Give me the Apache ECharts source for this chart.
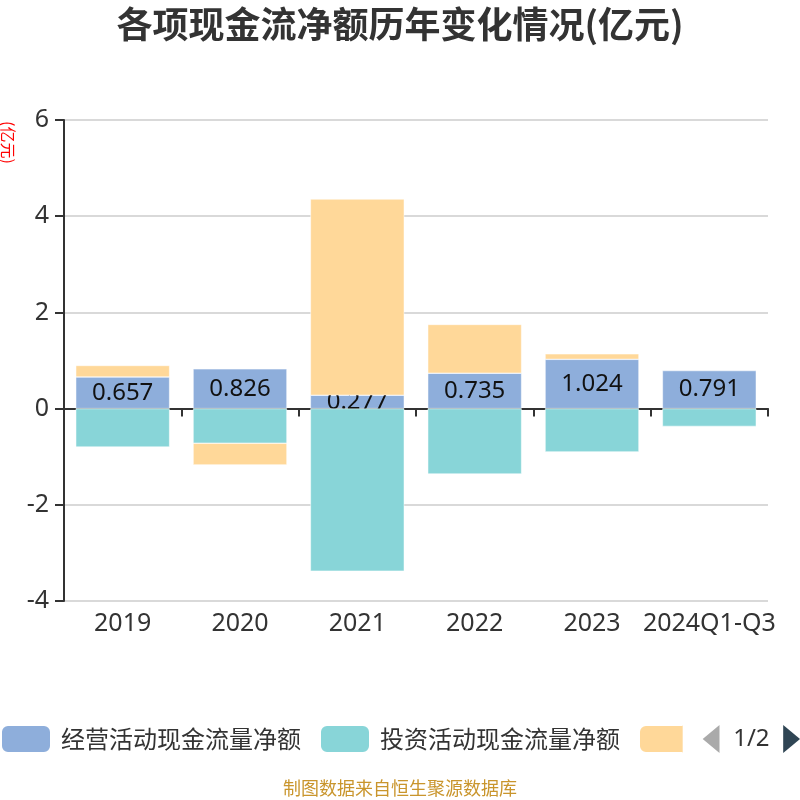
<!DOCTYPE html>
<html>
<head>
<meta charset="utf-8">
<script src="https://cdn.jsdelivr.net/npm/echarts@6/dist/echarts.min.js"></script>
<style>html,body{margin:0;padding:0;background:#fff}#c{width:800px;height:800px}</style>
</head>
<body>
<div id="c"></div>
<script>
const categories = ['2019', '2020', '2021', '2022', '2023', '2024Q1-Q3'];
const operating = [0.657, 0.826, 0.277, 0.735, 1.024, 0.791];
const investing = [-0.80, -0.72, -3.38, -1.36, -0.90, -0.37];
const financing = [0.24, -0.45, 4.08, 1.015, 0.115, null];
const seriesNames = ['经营活动现金流量净额', '投资活动现金流量净额', '筹资活动现金流量净额'];
const yTicks = { min: -4, max: 6, interval: 2 };

const chart = echarts.init(document.getElementById('c'));
const FONT = '"Noto Sans", "Noto Sans CJK SC", sans-serif';
const barCommon = { type: 'bar', stack: 'total', barWidth: '80%', xAxisIndex: 0 };
chart.setOption({
  animation: false,
  textStyle: { fontFamily: FONT },
  title: {
    text: '各项现金流净额历年变化情况(亿元)',
    left: 'center', top: 1,
    textStyle: { fontSize: 36, fontWeight: 'bold', color: '#333', fontFamily: '"Noto Sans CJK SC", sans-serif' }
  },
  grid: { left: 64, right: 32, top: 120, bottom: 199, containLabel: false },
  legend: {
    type: 'scroll', bottom: 46, left: 0, right: 0, padding: 0,
    itemWidth: 50, itemHeight: 28, itemGap: 18,
    icon: 'roundRect',
    textStyle: { fontSize: 24, color: '#333', fontFamily: '"Noto Sans CJK SC", sans-serif', padding: [0, 0, 0, 5] },
    pageIconColor: '#2f4554', pageIconInactiveColor: '#aaa', pageIconSize: [17, 28],
    pageButtonItemGap: 2, pageButtonGap: 20,
    pageTextStyle: { fontSize: 24, color: '#333', fontFamily: FONT },
    data: seriesNames
  },
  xAxis: [
    {
      type: 'category', data: categories, position: 'bottom',
      axisLine: { show: false, onZero: false }, axisTick: { show: false },
      axisLabel: { fontSize: 25, color: '#333', margin: 10, interval: 0, fontFamily: FONT }
    },
    {
      type: 'category', data: categories, position: 'bottom',
      axisLine: { show: true, onZero: true, lineStyle: { color: '#333', width: 2 } },
      axisTick: { show: true, length: 8, lineStyle: { color: '#333', width: 2 } },
      axisLabel: { show: false }
    }
  ],
  yAxis: {
    type: 'value', min: yTicks.min, max: yTicks.max, interval: yTicks.interval,
    axisLine: { show: true, lineStyle: { color: '#333', width: 2 } },
    axisTick: { show: true, length: 9, lineStyle: { color: '#333', width: 2 } },
    axisLabel: { fontSize: 25, color: '#333', margin: 15, fontFamily: FONT },
    splitLine: { lineStyle: { color: '#ccc', width: 1.5 } }
  },
  graphic: [{
    type: 'text', left: 0, top: 121, rotation: -Math.PI / 2,
    style: { text: '(亿元)', fill: '#ff0000', fontSize: 16, fontFamily: '"Noto Sans CJK SC", sans-serif' }
  }, {
    type: 'text', left: 'center', top: 779,
    style: { text: '制图数据来自恒生聚源数据库', fill: '#c9952c', fontSize: 18, fontFamily: '"Noto Sans CJK SC", sans-serif' }
  }],
  series: [
    Object.assign({}, barCommon, {
      name: seriesNames[0], data: operating, z: 2,
      itemStyle: { color: '#8eaedb', borderColor: '#fff', borderWidth: 0.5 },
      label: { show: true, position: 'inside', fontSize: 24, color: '#111', fontFamily: FONT, formatter: p => p.value.toFixed(3) }
    }),
    Object.assign({}, barCommon, {
      name: seriesNames[1], data: investing, z: 3,
      itemStyle: { color: '#88d5d8', borderColor: '#fff', borderWidth: 0.5 }
    }),
    Object.assign({}, barCommon, {
      name: seriesNames[2], data: financing, z: 3,
      itemStyle: { color: '#ffd899', borderColor: '#fff', borderWidth: 0.5 }
    })
  ]
});
</script>
</body>
</html>
